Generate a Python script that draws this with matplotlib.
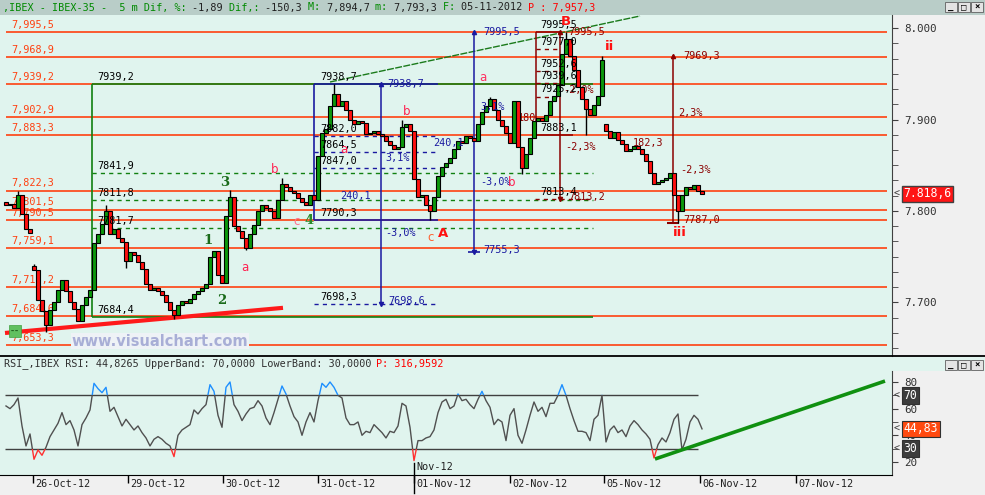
import numpy as np
import matplotlib.pyplot as plt
from matplotlib.patches import Rectangle
from matplotlib.lines import Line2D

plt.rcParams['font.family'] = ['DejaVu Sans Mono', 'DejaVu Sans']

# IBEX-35, 5 minute candles (closes, one per bar)
closes = [
    7806, 7808, 7803, 7818, 7797, 7780, 7776, 7735, 7703, 7690,
    7675, 7692, 7700, 7713, 7725, 7712, 7700, 7693, 7680, 7697,
    7706, 7713, 7765, 7775, 7786, 7800, 7775, 7780, 7770, 7766,
    7745, 7755, 7752, 7744, 7736, 7720, 7713, 7716, 7712, 7708,
    7700, 7692, 7686, 7697, 7702, 7699, 7704, 7709, 7712, 7716,
    7720, 7750, 7756, 7730, 7721, 7795, 7815, 7784, 7778, 7770,
    7760, 7775, 7785, 7800, 7806, 7803, 7800, 7792, 7812, 7830,
    7826, 7822, 7820, 7814, 7810, 7806, 7818, 7812, 7860, 7885,
    7890, 7915, 7928, 7915, 7920, 7910, 7900, 7895, 7898, 7896,
    7884, 7885, 7887, 7884, 7882, 7876, 7872, 7868, 7870, 7892,
    7895, 7888, 7835, 7815, 7818, 7806, 7800, 7815, 7838, 7848,
    7853, 7858, 7868, 7876, 7874, 7882, 7880, 7876, 7895, 7908,
    7915, 7922, 7910, 7900, 7893, 7885, 7874, 7920, 7870, 7847,
    7862, 7880, 7898, 7902, 7898, 7905, 7920, 7926, 7938, 7972,
    7988, 7970, 7954, 7936, 7922, 7912, 7905, 7916, 7926, 7965,
    7888, 7880, 7886, 7878, 7873, 7866, 7868, 7871, 7868, 7862,
    7855, 7842, 7830, 7832, 7834, 7836, 7841, 7818, 7800, 7818,
    7826, 7824, 7828, 7822, 7818.6,
]
first_open = 7810
gap_opens = {7: 7740, 150: 7895}
# notable wicks: bar -> (low, high)
extremes = {3: (None, 7822), 7: (None, 7742), 10: (7668, None), 25: (None, 7806),
            30: (7738, None), 42: (7682, None), 56: (None, 7823), 60: (7757, None),
            69: (None, 7836), 82: (None, 7938.7), 99: (None, 7900), 106: (7790.3, None),
            121: (None, 7925), 129: (7840, None), 140: (None, 7995.5), 145: (7883.1, None),
            149: (None, 7969.3), 168: (7787.0, None)}

rsi = [
    62, 60, 63, 68, 47, 32, 41, 22, 29, 25,
    31, 39, 44, 49, 57, 48, 51, 44, 32, 48,
    53, 59, 79, 75, 72, 76, 58, 61, 54, 47,
    52, 48, 44, 47, 42, 38, 32, 37, 39, 37,
    34, 32, 24, 40, 44, 46, 48, 59, 56, 60,
    63, 78, 73, 55, 46, 76, 80, 63, 58, 51,
    56, 60, 61, 66, 62, 53, 48, 57, 67, 77,
    71, 62, 54, 50, 40, 50, 57, 50, 66, 79,
    76, 80, 76, 70, 68, 53, 48, 48, 50, 40,
    43, 42, 48, 45, 42, 38, 43, 42, 47, 64,
    62, 46, 21, 36, 36, 38, 39, 44, 57, 65,
    67, 60, 62, 71, 66, 67, 63, 60, 67, 73,
    66, 61, 48, 52, 50, 36, 55, 60, 40, 34,
    44, 55, 65, 58, 61, 54, 64, 64, 70, 78,
    70, 60, 51, 43, 43, 42, 36, 52, 55, 70,
    35, 44, 47, 42, 44, 39, 47, 51, 48, 44,
    41, 37, 23, 33, 38, 35, 42, 52, 56, 29,
    37, 50, 55, 52, 44.83,
]

levels = [7995.5, 7968.9, 7939.2, 7902.9, 7883.3, 7822.3, 7801.5, 7790.5,
          7759.1, 7717.2, 7684.6, 7653.3]
fib_box = [7939.2, 7684.4]
fib_mid = [7841.9, 7811.8, 7781.7]
blue_box = [7938.7, 7790.3]
blue_dash = [7882.0, 7864.5, 7847.0]
blue_target = [7698.3, 7698.6]
blue_move = [7995.5, 7755.3]
red_box = [7995.5, 7883.1]
red_dash = [7977.0, 7952.6, 7939.6, 7925.2]
red_move = [7995.5, 7813.2, 7813.4]
red_move2 = [7969.3, 7787.0]
rsi_trend = [22.2, 80.7]
price_trend = [7666.5, 7694.0]
upper_trend = [7941.1, 8013.3]

date_labels = ['26-Oct-12', '29-Oct-12', '30-Oct-12', '31-Oct-12', '01-Nov-12',
               '02-Nov-12', '05-Nov-12', '06-Nov-12', '07-Nov-12']
date_pos = [6.75, 30.5, 54.25, 78, 102, 126, 149.5, 173.5, 197.5]

last_price = 7818.6
last_rsi = 44.83


def num(v, d=1):
    return f"{v:.{d}f}".replace('.', ',')


def level_txt(v):
    return f"{v:,.1f}".replace('.', ',')


def axis_txt(v):
    return f"{v:,.1f}".replace(',', ' ').replace('.', ',').replace(' ', '.')


W, H = 985, 495
BG = '#e0f4ee'
ORANGE = '#ff4010'
BLUE = '#1a1aa0'
MAROON = '#8a0000'
GREEN = '#108010'
FS = 7.3

fig = plt.figure(figsize=(W / 100, H / 100), dpi=100, facecolor='#f0f0f0')


def fbox(x0, y0, x1, y1):
    return [x0 / W, 1 - y1 / H, (x1 - x0) / W, (y1 - y0) / H]


ax = fig.add_axes(fbox(0, 15, 891.5, 356))
ax2 = fig.add_axes(fbox(0, 357, 891.5, 475))
for a in (ax, ax2):
    a.set_facecolor(BG)
    a.set_xlim(-1.5, 221.375)
    for s in ('top', 'left', 'bottom'):
        a.spines[s].set_visible(False)
    a.spines['right'].set_color('#404040')
    a.yaxis.tick_right()
ax.set_ylim(7641.3, 8014.4)
ax2.set_ylim(10.2, 98.75)
ax2.spines['bottom'].set_visible(True)
ax2.spines['bottom'].set_color('black')
ax2.spines['right'].set_bounds(10.2, 88.3)
ax.set_xticks([])

# ---- frame pieces ----
fig.add_artist(Rectangle((0, 1 - 15 / H), 1, 15 / H, fc='#b9cdc8', ec='none',
                         transform=fig.transFigure, zorder=0))
fig.add_artist(Rectangle((891.5 / W, 1 - 371 / H), 1 - 891.5 / W, 14 / H, fc=BG,
                         ec='none', transform=fig.transFigure, zorder=0))
fig.add_artist(Line2D([0, 1], [1 - 356.3 / H] * 2, color='black', lw=1.3,
                      transform=fig.transFigure))


def buttons(ytop):
    for k, g in enumerate(['_', '□', '×']):
        x0 = 945 + k * 13
        fig.add_artist(Rectangle((x0 / W, 1 - (ytop + 10) / H), 12 / W, 10 / H,
                                 fc='#e4e4e4', ec='#606060', lw=0.6,
                                 transform=fig.transFigure))
        fig.text((x0 + 6) / W, 1 - (ytop + 5) / H, g, fontsize=6.5, ha='center',
                 va='center', color='black', fontweight='bold')


buttons(2)
buttons(360)


def colored_line(pieces, x0, y0):
    cw = 0.6021 * FS * 100 / 72
    pos = 0
    for s, col in pieces:
        fig.text((x0 + pos * cw) / W, 1 - y0 / H, s, color=col, fontsize=FS,
                 va='center', ha='left')
        pos += len(s)


G, D, R = '#008a00', '#202020', '#ff0000'
colored_line([(',IBEX - IBEX-35 -  5 m Dif, %: ', G), ('-1,89 ', D), ('Dif,: ', G),
              ('-150,3 ', D), ('M: ', G), ('7,894,7 ', D), ('m: ', G), ('7,793,3 ', D),
              ('F: ', G), ('05-11-2012 ', D), ('P : 7,957,3', R)], 3, 7.5)
colored_line([('RSI_,IBEX RSI: 44,8265 UpperBand: 70,0000 LowerBand: 30,0000 ', '#303030'),
              ('P: 316,9592', R)], 4, 363.5)

# ---- price axis ----
ax.set_yticks([7700, 7800, 7900, 8000])
ax.set_yticklabels(['7.700', '7.800', '7.900', '8.000'])
ax.set_yticks(np.arange(7650, 8014, 100 / 6), minor=True)
ax.tick_params(axis='y', which='both', direction='out', length=4, color='#404040',
               labelsize=FS + 0.5, labelcolor='#303030', pad=5)

# ---- levels and drawings ----
ax.hlines(levels, 0, 220.25, colors=ORANGE, lw=1.2, zorder=2)
for lv in levels:
    ax.annotate(level_txt(lv), (1.25, lv), xytext=(0, 1.5), textcoords='offset points',
                color=ORANGE, fontsize=FS, va='bottom', zorder=3)

# green fibo box
ax.hlines(fib_box, 21.5, 146.75, colors=GREEN, lw=1.2, zorder=3)
ax.vlines(21.5, fib_box[1], fib_box[0], colors=GREEN, lw=1.2, zorder=3)
ax.hlines(fib_mid, 21.5, 146.75, colors=GREEN, lw=1, linestyles=(0, (3, 3)), zorder=3)
for lv in fib_box + fib_mid:
    ax.annotate(num(lv), (22.75, lv), xytext=(0, 1.5), textcoords='offset points',
                color='black', fontsize=FS, va='bottom', zorder=6)

ax.plot([81, 158.5], upper_trend, color='#1a7a1a', lw=1, ls=(0, (5, 1)), zorder=3)
ax.plot([-0.25, 69.25], price_trend, color='#ff1a1a', lw=3, zorder=4,
        solid_capstyle='butt')

# blue box
ax.hlines(blue_box, 77, 108, colors=BLUE, lw=1.2, zorder=3)
ax.vlines(77, blue_box[1], blue_box[0], colors=BLUE, lw=1.2, zorder=3)
ax.hlines(blue_dash + [blue_target[0]], 77, 108, colors=BLUE, lw=1,
          linestyles=(0, (3, 3)), zorder=3)
ax.plot([93.75, 93.75], [blue_box[0], blue_target[1]], color=BLUE, lw=1.1, zorder=3)
ax.plot([93.75], [blue_box[0]], marker='^', ms=3, color=BLUE, zorder=3)
ax.plot([93.75], [blue_target[1]], marker='v', ms=3, color=BLUE, zorder=3)
for lv in [blue_box[0]] + blue_dash + [blue_box[1], blue_target[0]]:
    ax.annotate(num(lv), (78.5, lv), xytext=(0, 1.5), textcoords='offset points',
                color='black', fontsize=FS, va='bottom', zorder=6)
ax.plot([117, 117], blue_move, color=BLUE, lw=1.1, zorder=3)
ax.plot([117], [blue_move[0]], marker='^', ms=3, color=BLUE, zorder=3)
ax.plot([117], [blue_move[1]], marker='_', ms=8, mew=1.2, color=BLUE, zorder=3)
ax.plot([117], [blue_move[1]], marker='v', ms=3, color=BLUE, zorder=3)

blue_texts = [(95.25, blue_box[0], num(blue_box[0])), (95.5, 7701.5, num(blue_target[1])),
              (119.25, blue_move[0], num(blue_move[0])), (119.25, blue_move[1] + 2, num(blue_move[1])),
              (94.75, 7858, '3,1%'), (83.5, 7816.4, '240,1'), (94.75, 7775.9, '-3,0%'),
              (106.75, 7874.4, '240,1'), (118.5, 7913.8, '3,1%'), (118.5, 7831.7, '-3,0%')]
for x, y, s in blue_texts:
    ax.text(x, y, s, color=BLUE, fontsize=FS, va='center', zorder=6)

# maroon box
ax.vlines(132.5, red_box[1], red_box[0], colors=MAROON, lw=1.1, zorder=3)
ax.hlines(red_box[0], 132.5, 138.5, colors=MAROON, lw=1.1, zorder=3)
ax.hlines(red_box[1], 132.5, 141.75, colors=MAROON, lw=1.1, zorder=3)
ax.hlines(red_dash, 132.5, 138.5, colors=MAROON, lw=1, linestyles=(0, (3, 3)), zorder=3)
ax.hlines(red_move[1], 132.25, 146.5, colors=MAROON, lw=1, linestyles=(0, (3, 3)), zorder=3)
ax.plot([138.5, 138.5], red_move[:2], color=MAROON, lw=1.1, zorder=3)
ax.plot([138.5], [red_move[0]], marker='^', ms=3, color=MAROON, zorder=3)
ax.plot([138.5], [red_move[1]], marker='v', ms=3, color=MAROON, zorder=3)
for lv in [red_box[0]] + red_dash + [red_box[1], red_move[2]]:
    ax.annotate(num(lv), (133.5, lv), xytext=(0, 1.5), textcoords='offset points',
                color='black', fontsize=FS, va='bottom', zorder=6)
ax.plot([166.75, 166.75], red_move2, color=MAROON, lw=1.1, zorder=3)
ax.plot([166.75], [red_move2[0]], marker='^', ms=3, color=MAROON, zorder=3)
ax.plot([166.75], [red_move2[1]], marker='_', ms=8, mew=1.5, color=MAROON, zorder=3)

maroon_texts = [(140.5, red_move[0], num(red_move[0])), (140.5, red_move[1] + 2, num(red_move[1])),
                (169.25, red_move2[0], num(red_move2[0])), (169.25, red_move2[1] + 3, num(red_move2[1])),
                (139.75, 7870, '-2,3%'), (139.25, 7932.4, '-2,0%'), (128, 7901.6, '180'),
                (168, 7907.2, '2,3%'), (168.5, 7844.9, '-2,3%'), (156.75, 7874.4, '182,3')]
for x, y, s in maroon_texts:
    ax.text(x, y, s, color=MAROON, fontsize=FS, va='center', zorder=4)

# ---- candles ----
c = np.array(closes, dtype=float)
o = np.r_[first_open, c[:-1]]
for i, v in gap_opens.items():
    o[i] = v
x = np.arange(len(c))
lo = np.minimum(o, c)
hi = np.maximum(o, c)
for i, (wl, wh) in extremes.items():
    ax.vlines(i, wl if wl is not None else lo[i], wh if wh is not None else hi[i],
              colors='black', lw=1, zorder=4.5)
ax.bar(x, np.maximum(hi - lo, 1.5), 0.8, bottom=lo,
       color=np.where(c >= o, '#0c980c', '#ff1010'), edgecolor='black',
       linewidth=0.8, zorder=5)

# ---- wave labels ----
waves = [(54.75, 7830.6, '3', '#1a6b1a'), (50.5, 7767.2, '1', '#1a6b1a'),
         (54, 7701.5, '2', '#1a6b1a'), (75.75, 7789.1, '4', '#2a8a2a'),
         (67.25, 7844.9, 'b', '#ff2050'), (59.75, 7737.7, 'a', '#ff2050'),
         (72.75, 7788, 'c', '#ff7090'), (84.5, 7866.7, 'a', '#ff2050'),
         (100.25, 7908.3, 'b', '#ff2050'), (106.25, 7771.5, 'c', '#ff6030'),
         (119.25, 7945.5, 'a', '#ff3060'), (126.5, 7830.6, 'b', '#ff2050')]
for xw, yw, s, col in waves:
    bold = s.isdigit()
    ax.text(xw, yw, s, color=col, fontsize=9.5 if bold else 8.5, ha='center', va='center',
            fontweight='bold' if bold else 'normal',
            family='DejaVu Serif' if bold else 'DejaVu Sans', zorder=7)
for xw, yw, s in [(109.25, 7774.8, 'A'), (140, 8006.8, 'B'), (151, 7979.4, 'ii'),
                  (168.5, 7775.9, 'iii')]:
    ax.text(xw, yw, s, color='#ff1010', fontsize=9.5, ha='center', va='center',
            fontweight='bold', family='DejaVu Sans', zorder=7)

ax.text(38.5, 7657.7, 'www.visualchart.com', color='#a8aed6', fontsize=10.5,
        fontweight='bold', family='DejaVu Sans', ha='center', va='center', zorder=6,
        bbox=dict(boxstyle='square,pad=0.05', fc='#eef2f6', ec='none'))
ax.text(2.25, 7668.6, '--', color='#206020', fontsize=6, ha='center', va='center',
        fontweight='bold', zorder=7,
        bbox=dict(boxstyle='square,pad=0.15', fc='#60c060', ec='#40a040', lw=0.5))

# last price marker
ax.text(1 + 2 / 891.5, last_price, '<', transform=ax.get_yaxis_transform(),
        color='#404040', fontsize=FS, va='center', ha='left', clip_on=False)
ax.text(1 + 12 / 891.5, last_price, axis_txt(last_price),
        transform=ax.get_yaxis_transform(), color='white', fontsize=FS + 1,
        va='center', ha='left', clip_on=False, zorder=10,
        bbox=dict(boxstyle='square,pad=0.15', fc='#ff1515', ec='#404040', lw=1))

# ---- RSI panel ----
xr = np.arange(len(rsi))
r = np.array(rsi, dtype=float)
for ylo, yhi, col in [(10, 30, '#ff3030'), (30, 70, '#505050'), (70, 100, '#1e8fff')]:
    ln, = ax2.plot(xr, r, color=col, lw=1, zorder=4)
    clip = Rectangle((-2, ylo), 230, yhi - ylo, transform=ax2.transData)
    ln.set_clip_path(clip)
ax2.hlines([70, 30], -0.25, 173, colors='#404040', lw=1, zorder=3)
ax2.plot([162.25, 219.75], rsi_trend, color='#109010', lw=2.6, zorder=5,
         solid_capstyle='butt')

ax2.set_yticks([20, 40, 60, 80])
ax2.set_yticks([30, 50, 70], minor=True)
ax2.tick_params(axis='y', which='both', direction='out', length=4, color='#404040',
                labelsize=FS + 0.5, labelcolor='#303030', pad=5)
for val, txt, fc in [(70, '70', '#3c3c3c'), (last_rsi, num(last_rsi, 2), '#ff4a10'),
                     (30, '30', '#3c3c3c')]:
    ax2.text(1 + 2 / 891.5, val, '<', transform=ax2.get_yaxis_transform(),
             color='#404040', fontsize=FS, va='center', ha='left', clip_on=False)
    ax2.text(1 + 12 / 891.5, val, txt, transform=ax2.get_yaxis_transform(),
             color='white', fontsize=FS + 1, va='center', ha='left', clip_on=False,
             zorder=10, bbox=dict(boxstyle='square,pad=0.15', fc=fc, ec='#303030', lw=0.8))

# date axis
ax2.set_xticks(date_pos)
ax2.set_xticklabels([''] * len(date_pos))
ax2.tick_params(axis='x', direction='out', length=6, color='black', width=1)
for pos, lbl in zip(date_pos, date_labels):
    ax2.annotate(lbl, (pos, 0), xycoords=('data', 'axes fraction'), xytext=(2, -4),
                 textcoords='offset pixels', ha='left', va='top', fontsize=FS,
                 color='#202020', annotation_clip=False)
ax2.plot([102, 102], [0.1017, -0.15], transform=ax2.get_xaxis_transform(),
         color='black', lw=1, clip_on=False)
ax2.text(102.6, 16.2, 'Nov-12', color='#202020', fontsize=FS, va='center', ha='left')

fig.savefig('out.png', dpi=100, facecolor=fig.get_facecolor())
